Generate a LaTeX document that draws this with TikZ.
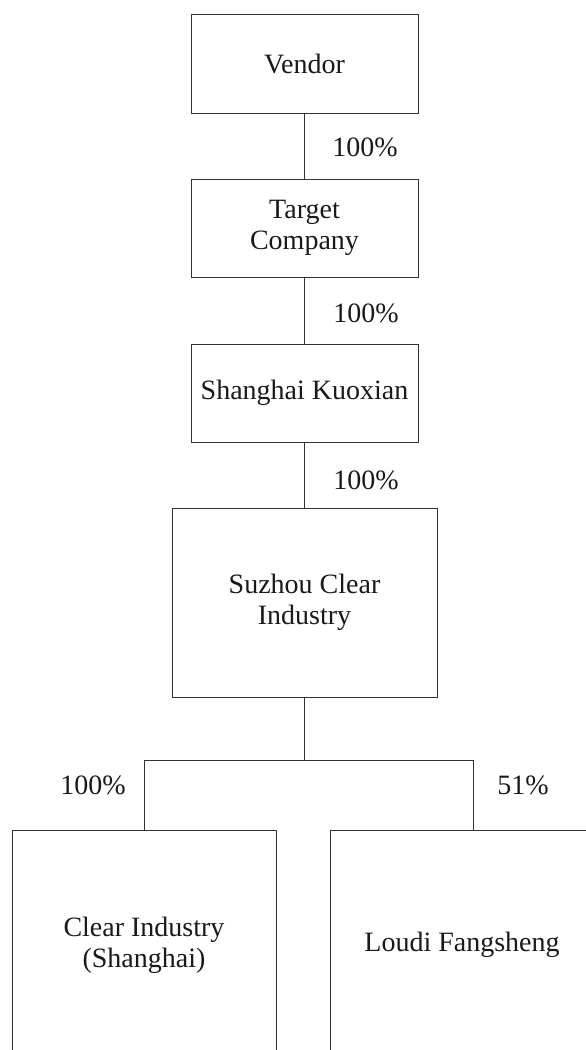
\documentclass[tikz,border=0pt]{standalone}
\usepackage{fontspec}
\setmainfont{Liberation Serif}
\begin{document}
\begin{tikzpicture}[x=1pt,y=-1pt,
  box/.style={draw=black!80,line width=0.9pt,rectangle,align=center,inner sep=0pt,text=black!90,font=\fontsize{28}{31}\selectfont},
  pct/.style={text=black!90,font=\fontsize{28}{31}\selectfont,inner sep=0pt},
  link/.style={draw=black!80,line width=0.9pt}]
\useasboundingbox (0,0) rectangle (586,1050);
\clip (0,0) rectangle (586,1050);
\node[box,minimum width=227pt,minimum height=99pt] (vendor) at (304.5,63.5) {Vendor};
\node[box,minimum width=227pt,minimum height=98pt] (target) at (304.5,228) {Target\\Company};
\node[box,minimum width=227pt,minimum height=98pt] (kuoxian) at (304.5,393) {Shanghai Kuoxian};
\node[box,minimum width=265pt,minimum height=189pt] (suzhou) at (304.5,602.5) {Suzhou Clear\\Industry};
\node[box,minimum width=264pt,minimum height=230pt] (left) at (144,945) {Clear Industry\\(Shanghai)};
\node[box,minimum width=264pt,minimum height=230pt] (right) at (462,945) {Loudi Fangsheng};
\coordinate (rdrop) at (473,830);
\coordinate (split) at (304.5,760);
\draw[link] (vendor.south) -- (target.north);
\draw[link] (target.south) -- (kuoxian.north);
\draw[link] (kuoxian.south) -- (suzhou.north);
\draw[link] (suzhou.south) -- (split);
\draw[link] (left.north) |- (split) -| (rdrop);
\node[pct] (p1) at (365,147) {100\%};
\node[pct] (p2) at (366,313) {100\%};
\node[pct] (p3) at (366,480) {100\%};
\node[pct] (p4) at (93,785) {100\%};
\node[pct] (p5) at (523,785) {51\%};
\end{tikzpicture}
\end{document}
